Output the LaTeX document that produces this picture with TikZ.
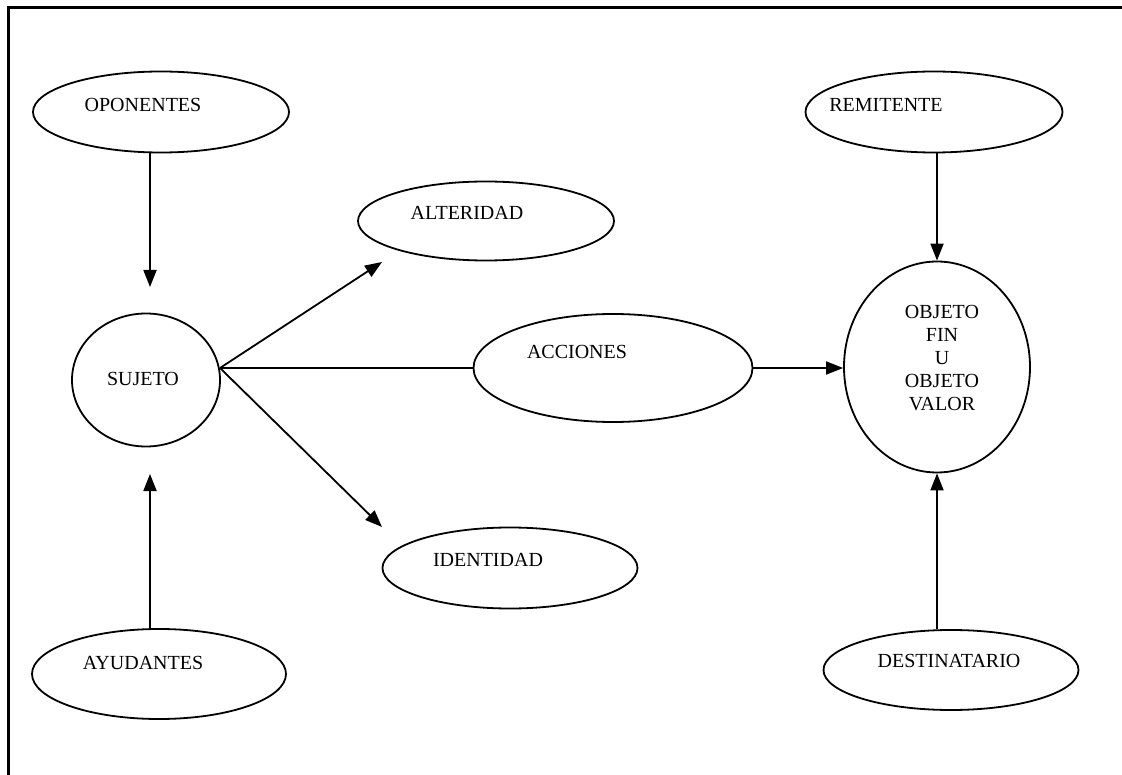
\documentclass[tikz,border=0pt]{standalone}
\usepackage{fontspec}
\setmainfont{Liberation Serif}
\usetikzlibrary{shapes.geometric,arrows.meta}
\begin{document}
\begin{tikzpicture}[x=1pt,y=-1pt,
  oval/.style={draw,ellipse,line width=1.8pt,inner sep=0pt},
  conn/.style={line width=1.8pt},
  arr/.style={conn,-{Triangle[length=17pt,width=13pt]}},
  txt/.style={font=\fontsize{20}{23}\selectfont,inner sep=0pt,align=center}]
\useasboundingbox (0,0) rectangle (1122,775);

% frame (only top and left edges fall inside the page)
\draw[line width=3pt] (8,775) -- (8,8) -- (1122,8);

% actants
\node[oval,minimum width=256pt,minimum height=81pt,
  label={[txt,xshift=-18pt,yshift=7pt]center:OPONENTES}] (op) at (161,112) {};
\node[oval,minimum width=148pt,minimum height=133pt,
  label={[txt,xshift=-3pt,yshift=1pt]center:SUJETO}] (suj) at (146,380) {};
\node[oval,minimum width=254pt,minimum height=90pt,
  label={[txt,xshift=-16pt,yshift=11pt]center:AYUDANTES}] (ay) at (159,674) {};
\node[oval,minimum width=256pt,minimum height=79pt,
  label={[txt,xshift=-19pt,yshift=8pt]center:ALTERIDAD}] (alt) at (486,221) {};
\node[oval,minimum width=279pt,minimum height=108pt,
  label={[txt,xshift=-36pt,yshift=16pt]center:ACCIONES}] (acc) at (613,368) {};
\node[oval,minimum width=255pt,minimum height=81pt,
  label={[txt,xshift=-22pt,yshift=8pt]center:IDENTIDAD}] (iden) at (510,568) {};
\node[oval,minimum width=257pt,minimum height=81pt,
  label={[txt,xshift=-48pt,yshift=7pt]center:REMITENTE}] (rem) at (934,112) {};
\node[oval,minimum width=186pt,minimum height=211pt,
  label={[txt,xshift=5pt,yshift=9pt]center:OBJETO\\FIN\\U\\OBJETO\\VALOR}] (obj) at (937,367) {};
\node[oval,minimum width=255pt,minimum height=80pt,
  label={[txt,xshift=-2pt,yshift=9pt]center:DESTINATARIO}] (dest) at (951,670) {};

% free arrow ends
\coordinate (opTip) at (150,287);
\coordinate (ayTip) at (150,474);
\coordinate (fork) at (220,368);
\coordinate (altTip) at (382,262);
\coordinate (idTip) at (382,527);

% connectors
\draw[arr] (opTip |- op.south) -- (opTip);
\draw[arr] (ayTip |- ay.north) -- (ayTip);
\draw[arr] (fork) -- (altTip);
\draw[arr] (fork) -- (idTip);
\draw[conn] (fork) -- (acc.west);
\draw[arr] (acc.east) -- (acc.east -| obj.west);
\draw[arr] (obj.north |- rem.south) -- (obj.north);
\draw[arr] (obj.south |- dest.north) -- (obj.south);
\end{tikzpicture}
\end{document}
